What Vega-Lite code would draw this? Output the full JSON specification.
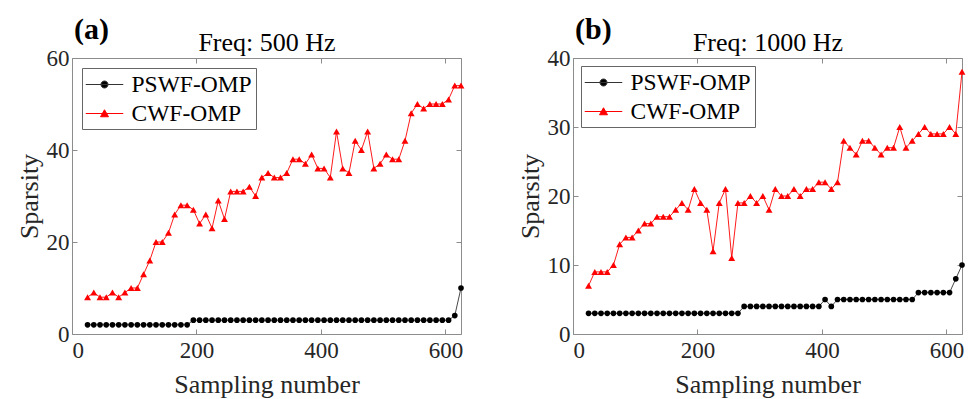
{
  "$schema": "https://vega.github.io/schema/vega-lite/v6.json",
  "padding": {"left": 15, "top": 14, "right": 4, "bottom": 2},
  "config": {
    "view": {"stroke": "#8c8c8c", "strokeWidth": 1},
    "font": "Liberation Serif",
    "axis": {"labelFont": "Liberation Serif", "labelFontSize": 23, "labelColor": "#262626", "titleFont": "Liberation Serif", "titleFontSize": 26, "titleFontWeight": "normal", "titleColor": "#262626", "grid": false, "domain": false, "tickColor": "#8c8c8c", "tickSize": -5, "labelPadding": 10},
    "title": {"font": "Liberation Serif", "color": "#000000"},
    "legend": {"orient": "top-left", "offset": 10, "fillColor": "white", "strokeColor": "#666666", "padding": 3.5, "labelFont": "Liberation Serif", "labelFontSize": 23.5, "labelColor": "#000000", "labelOffset": 14, "symbolOffset": 6, "rowPadding": 4, "symbolSize": 625, "symbolStrokeWidth": 1}
  },
  "datasets": {
    "a": [
      {"n":25,"s":"PSWF-OMP","v":2},{"n":35,"s":"PSWF-OMP","v":2},{"n":45,"s":"PSWF-OMP","v":2},{"n":55,"s":"PSWF-OMP","v":2},{"n":65,"s":"PSWF-OMP","v":2},{"n":75,"s":"PSWF-OMP","v":2},{"n":85,"s":"PSWF-OMP","v":2},{"n":95,"s":"PSWF-OMP","v":2},{"n":105,"s":"PSWF-OMP","v":2},{"n":115,"s":"PSWF-OMP","v":2},{"n":125,"s":"PSWF-OMP","v":2},{"n":135,"s":"PSWF-OMP","v":2},{"n":145,"s":"PSWF-OMP","v":2},{"n":155,"s":"PSWF-OMP","v":2},{"n":165,"s":"PSWF-OMP","v":2},{"n":175,"s":"PSWF-OMP","v":2},{"n":185,"s":"PSWF-OMP","v":2},
      {"n":195,"s":"PSWF-OMP","v":3},{"n":205,"s":"PSWF-OMP","v":3},{"n":215,"s":"PSWF-OMP","v":3},{"n":225,"s":"PSWF-OMP","v":3},{"n":235,"s":"PSWF-OMP","v":3},{"n":245,"s":"PSWF-OMP","v":3},{"n":255,"s":"PSWF-OMP","v":3},{"n":265,"s":"PSWF-OMP","v":3},{"n":275,"s":"PSWF-OMP","v":3},{"n":285,"s":"PSWF-OMP","v":3},{"n":295,"s":"PSWF-OMP","v":3},{"n":305,"s":"PSWF-OMP","v":3},{"n":315,"s":"PSWF-OMP","v":3},{"n":325,"s":"PSWF-OMP","v":3},{"n":335,"s":"PSWF-OMP","v":3},{"n":345,"s":"PSWF-OMP","v":3},{"n":355,"s":"PSWF-OMP","v":3},{"n":365,"s":"PSWF-OMP","v":3},{"n":375,"s":"PSWF-OMP","v":3},{"n":385,"s":"PSWF-OMP","v":3},{"n":395,"s":"PSWF-OMP","v":3},{"n":405,"s":"PSWF-OMP","v":3},{"n":415,"s":"PSWF-OMP","v":3},{"n":425,"s":"PSWF-OMP","v":3},{"n":435,"s":"PSWF-OMP","v":3},{"n":445,"s":"PSWF-OMP","v":3},{"n":455,"s":"PSWF-OMP","v":3},{"n":465,"s":"PSWF-OMP","v":3},{"n":475,"s":"PSWF-OMP","v":3},{"n":485,"s":"PSWF-OMP","v":3},{"n":495,"s":"PSWF-OMP","v":3},{"n":505,"s":"PSWF-OMP","v":3},{"n":515,"s":"PSWF-OMP","v":3},{"n":525,"s":"PSWF-OMP","v":3},{"n":535,"s":"PSWF-OMP","v":3},{"n":545,"s":"PSWF-OMP","v":3},{"n":555,"s":"PSWF-OMP","v":3},{"n":565,"s":"PSWF-OMP","v":3},{"n":575,"s":"PSWF-OMP","v":3},{"n":585,"s":"PSWF-OMP","v":3},{"n":595,"s":"PSWF-OMP","v":3},{"n":605,"s":"PSWF-OMP","v":3},{"n":615,"s":"PSWF-OMP","v":4},{"n":625,"s":"PSWF-OMP","v":10},
      {"n":25,"s":"CWF-OMP","v":8},{"n":35,"s":"CWF-OMP","v":9},{"n":45,"s":"CWF-OMP","v":8},{"n":55,"s":"CWF-OMP","v":8},{"n":65,"s":"CWF-OMP","v":9},{"n":75,"s":"CWF-OMP","v":8},{"n":85,"s":"CWF-OMP","v":9},{"n":95,"s":"CWF-OMP","v":10},{"n":105,"s":"CWF-OMP","v":10},{"n":115,"s":"CWF-OMP","v":13},
      {"n":125,"s":"CWF-OMP","v":16},{"n":135,"s":"CWF-OMP","v":20},{"n":145,"s":"CWF-OMP","v":20},{"n":155,"s":"CWF-OMP","v":22},{"n":165,"s":"CWF-OMP","v":26},{"n":175,"s":"CWF-OMP","v":28},{"n":185,"s":"CWF-OMP","v":28},{"n":195,"s":"CWF-OMP","v":27},{"n":205,"s":"CWF-OMP","v":24},{"n":215,"s":"CWF-OMP","v":26},
      {"n":225,"s":"CWF-OMP","v":23},{"n":235,"s":"CWF-OMP","v":29},{"n":245,"s":"CWF-OMP","v":25},{"n":255,"s":"CWF-OMP","v":31},{"n":265,"s":"CWF-OMP","v":31},{"n":275,"s":"CWF-OMP","v":31},{"n":285,"s":"CWF-OMP","v":32},{"n":295,"s":"CWF-OMP","v":30},{"n":305,"s":"CWF-OMP","v":34},{"n":315,"s":"CWF-OMP","v":35},
      {"n":325,"s":"CWF-OMP","v":34},{"n":335,"s":"CWF-OMP","v":34},{"n":345,"s":"CWF-OMP","v":35},{"n":355,"s":"CWF-OMP","v":38},{"n":365,"s":"CWF-OMP","v":38},{"n":375,"s":"CWF-OMP","v":37},{"n":385,"s":"CWF-OMP","v":39},{"n":395,"s":"CWF-OMP","v":36},{"n":405,"s":"CWF-OMP","v":36},{"n":415,"s":"CWF-OMP","v":34},
      {"n":425,"s":"CWF-OMP","v":44},{"n":435,"s":"CWF-OMP","v":36},{"n":445,"s":"CWF-OMP","v":35},{"n":455,"s":"CWF-OMP","v":42},{"n":465,"s":"CWF-OMP","v":40},{"n":475,"s":"CWF-OMP","v":44},{"n":485,"s":"CWF-OMP","v":36},{"n":495,"s":"CWF-OMP","v":37},{"n":505,"s":"CWF-OMP","v":39},{"n":515,"s":"CWF-OMP","v":38},
      {"n":525,"s":"CWF-OMP","v":38},{"n":535,"s":"CWF-OMP","v":42},{"n":545,"s":"CWF-OMP","v":48},{"n":555,"s":"CWF-OMP","v":50},{"n":565,"s":"CWF-OMP","v":49},{"n":575,"s":"CWF-OMP","v":50},{"n":585,"s":"CWF-OMP","v":50},{"n":595,"s":"CWF-OMP","v":50},{"n":605,"s":"CWF-OMP","v":51},{"n":615,"s":"CWF-OMP","v":54},{"n":625,"s":"CWF-OMP","v":54}
    ],
    "b": [
      {"n":25,"s":"PSWF-OMP","v":3},{"n":35,"s":"PSWF-OMP","v":3},{"n":45,"s":"PSWF-OMP","v":3},{"n":55,"s":"PSWF-OMP","v":3},{"n":65,"s":"PSWF-OMP","v":3},{"n":75,"s":"PSWF-OMP","v":3},{"n":85,"s":"PSWF-OMP","v":3},{"n":95,"s":"PSWF-OMP","v":3},{"n":105,"s":"PSWF-OMP","v":3},{"n":115,"s":"PSWF-OMP","v":3},{"n":125,"s":"PSWF-OMP","v":3},{"n":135,"s":"PSWF-OMP","v":3},{"n":145,"s":"PSWF-OMP","v":3},{"n":155,"s":"PSWF-OMP","v":3},{"n":165,"s":"PSWF-OMP","v":3},{"n":175,"s":"PSWF-OMP","v":3},{"n":185,"s":"PSWF-OMP","v":3},{"n":195,"s":"PSWF-OMP","v":3},{"n":205,"s":"PSWF-OMP","v":3},{"n":215,"s":"PSWF-OMP","v":3},{"n":225,"s":"PSWF-OMP","v":3},{"n":235,"s":"PSWF-OMP","v":3},{"n":245,"s":"PSWF-OMP","v":3},{"n":255,"s":"PSWF-OMP","v":3},{"n":265,"s":"PSWF-OMP","v":3},
      {"n":275,"s":"PSWF-OMP","v":4},{"n":285,"s":"PSWF-OMP","v":4},{"n":295,"s":"PSWF-OMP","v":4},{"n":305,"s":"PSWF-OMP","v":4},{"n":315,"s":"PSWF-OMP","v":4},{"n":325,"s":"PSWF-OMP","v":4},{"n":335,"s":"PSWF-OMP","v":4},{"n":345,"s":"PSWF-OMP","v":4},{"n":355,"s":"PSWF-OMP","v":4},{"n":365,"s":"PSWF-OMP","v":4},{"n":375,"s":"PSWF-OMP","v":4},{"n":385,"s":"PSWF-OMP","v":4},{"n":395,"s":"PSWF-OMP","v":4},{"n":405,"s":"PSWF-OMP","v":5},{"n":415,"s":"PSWF-OMP","v":4},
      {"n":425,"s":"PSWF-OMP","v":5},{"n":435,"s":"PSWF-OMP","v":5},{"n":445,"s":"PSWF-OMP","v":5},{"n":455,"s":"PSWF-OMP","v":5},{"n":465,"s":"PSWF-OMP","v":5},{"n":475,"s":"PSWF-OMP","v":5},{"n":485,"s":"PSWF-OMP","v":5},{"n":495,"s":"PSWF-OMP","v":5},{"n":505,"s":"PSWF-OMP","v":5},{"n":515,"s":"PSWF-OMP","v":5},{"n":525,"s":"PSWF-OMP","v":5},{"n":535,"s":"PSWF-OMP","v":5},{"n":545,"s":"PSWF-OMP","v":5},
      {"n":555,"s":"PSWF-OMP","v":6},{"n":565,"s":"PSWF-OMP","v":6},{"n":575,"s":"PSWF-OMP","v":6},{"n":585,"s":"PSWF-OMP","v":6},{"n":595,"s":"PSWF-OMP","v":6},{"n":605,"s":"PSWF-OMP","v":6},{"n":615,"s":"PSWF-OMP","v":8},{"n":625,"s":"PSWF-OMP","v":10},
      {"n":25,"s":"CWF-OMP","v":7},{"n":35,"s":"CWF-OMP","v":9},{"n":45,"s":"CWF-OMP","v":9},{"n":55,"s":"CWF-OMP","v":9},{"n":65,"s":"CWF-OMP","v":10},{"n":75,"s":"CWF-OMP","v":13},{"n":85,"s":"CWF-OMP","v":14},{"n":95,"s":"CWF-OMP","v":14},{"n":105,"s":"CWF-OMP","v":15},{"n":115,"s":"CWF-OMP","v":16},
      {"n":125,"s":"CWF-OMP","v":16},{"n":135,"s":"CWF-OMP","v":17},{"n":145,"s":"CWF-OMP","v":17},{"n":155,"s":"CWF-OMP","v":17},{"n":165,"s":"CWF-OMP","v":18},{"n":175,"s":"CWF-OMP","v":19},{"n":185,"s":"CWF-OMP","v":18},{"n":195,"s":"CWF-OMP","v":21},{"n":205,"s":"CWF-OMP","v":19},{"n":215,"s":"CWF-OMP","v":18},
      {"n":225,"s":"CWF-OMP","v":12},{"n":235,"s":"CWF-OMP","v":19},{"n":245,"s":"CWF-OMP","v":21},{"n":255,"s":"CWF-OMP","v":11},{"n":265,"s":"CWF-OMP","v":19},{"n":275,"s":"CWF-OMP","v":19},{"n":285,"s":"CWF-OMP","v":20},{"n":295,"s":"CWF-OMP","v":19},{"n":305,"s":"CWF-OMP","v":20},{"n":315,"s":"CWF-OMP","v":18},
      {"n":325,"s":"CWF-OMP","v":21},{"n":335,"s":"CWF-OMP","v":20},{"n":345,"s":"CWF-OMP","v":20},{"n":355,"s":"CWF-OMP","v":21},{"n":365,"s":"CWF-OMP","v":20},{"n":375,"s":"CWF-OMP","v":21},{"n":385,"s":"CWF-OMP","v":21},{"n":395,"s":"CWF-OMP","v":22},{"n":405,"s":"CWF-OMP","v":22},{"n":415,"s":"CWF-OMP","v":21},
      {"n":425,"s":"CWF-OMP","v":22},{"n":435,"s":"CWF-OMP","v":28},{"n":445,"s":"CWF-OMP","v":27},{"n":455,"s":"CWF-OMP","v":26},{"n":465,"s":"CWF-OMP","v":28},{"n":475,"s":"CWF-OMP","v":28},{"n":485,"s":"CWF-OMP","v":27},{"n":495,"s":"CWF-OMP","v":26},{"n":505,"s":"CWF-OMP","v":27},{"n":515,"s":"CWF-OMP","v":27},
      {"n":525,"s":"CWF-OMP","v":30},{"n":535,"s":"CWF-OMP","v":27},{"n":545,"s":"CWF-OMP","v":28},{"n":555,"s":"CWF-OMP","v":29},{"n":565,"s":"CWF-OMP","v":30},{"n":575,"s":"CWF-OMP","v":29},{"n":585,"s":"CWF-OMP","v":29},{"n":595,"s":"CWF-OMP","v":29},{"n":605,"s":"CWF-OMP","v":30},{"n":615,"s":"CWF-OMP","v":29},{"n":625,"s":"CWF-OMP","v":38}
    ]
  },
  "spacing": 51,
  "resolve": {
    "scale": {"x": "independent", "y": "independent", "stroke": "independent"}
  },
  "hconcat": [
    {
      "width": 389, "height": 276,
      "data": {"name": "a"},
      "title": {"text": "(a)", "anchor": "start", "frame": "group", "fontSize": 30, "fontWeight": "bold", "offset": -15, "dx": 2},
      "layer": [
        {
          "mark": {"type": "line", "strokeWidth": 0.9},
          "encoding": {
            "x": {"field": "n", "type": "quantitative", "scale": {"domain": [0, 625], "nice": false, "zero": false}, "axis": {"values": [0, 200, 400, 600], "title": "Sampling number", "titlePadding": 9}},
            "y": {"field": "v", "type": "quantitative", "scale": {"domain": [0, 60], "nice": false}, "axis": {"values": [0, 20, 40, 60], "title": "Sparsity", "labelPadding": 8}},
            "stroke": {"field": "s", "type": "nominal", "scale": {"domain": ["PSWF-OMP", "CWF-OMP"], "range": ["#333333", "#ff0000"]},
              "legend": {"title": null, "offset": 10, "encode": {"symbols": {"update": {
                "shape": {"signal": "datum.value === 'PSWF-OMP' ? 'M-1.5,0H1.5M0.28,0A0.28,0.28,0,1,1,-0.28,0A0.28,0.28,0,1,1,0.28,0Z' : 'M-1.5,0H1.5M0,-0.3L0.32,0.26L-0.32,0.26Z'"},
                "stroke": {"signal": "datum.value === 'PSWF-OMP' ? '#333333' : '#ff0000'"},
                "fill": {"signal": "datum.value === 'PSWF-OMP' ? '#000000' : '#ff0000'"},
                "strokeWidth": {"value": 1}, "size": {"value": 625}, "opacity": {"value": 1}}}}}}
          }
        },
        {
          "mark": {"type": "point", "filled": true, "opacity": 1},
          "encoding": {
            "x": {"field": "n", "type": "quantitative", "axis": {"orient": "top", "values": [0, 200, 400, 600], "labels": false, "title": "Freq: 500 Hz", "titlePadding": 2, "titleColor": "#000000"}},
            "y": {"field": "v", "type": "quantitative", "axis": {"orient": "right", "values": [0, 20, 40, 60], "labels": false, "title": null}},
            "color": {"condition": {"test": "datum.s === 'CWF-OMP'", "value": "#ff0000"}, "value": "#000000"},
            "shape": {"condition": {"test": "datum.s === 'CWF-OMP'", "value": "triangle-up"}, "value": "circle"},
            "size": {"condition": {"test": "datum.s === 'CWF-OMP'", "value": 48}, "value": 32}
          }
        }
      ],
      "resolve": {"axis": {"x": "independent", "y": "independent"}}
    },
    {
      "width": 389, "height": 276,
      "data": {"name": "b"},
      "title": {"text": "(b)", "anchor": "start", "frame": "group", "fontSize": 30, "fontWeight": "bold", "offset": -15, "dx": 2},
      "layer": [
        {
          "mark": {"type": "line", "strokeWidth": 0.9},
          "encoding": {
            "x": {"field": "n", "type": "quantitative", "scale": {"domain": [0, 625], "nice": false, "zero": false}, "axis": {"values": [0, 200, 400, 600], "title": "Sampling number", "titlePadding": 9}},
            "y": {"field": "v", "type": "quantitative", "scale": {"domain": [0, 40], "nice": false}, "axis": {"values": [0, 10, 20, 30, 40], "title": "Sparsity", "labelPadding": 8}},
            "stroke": {"field": "s", "type": "nominal", "scale": {"domain": ["PSWF-OMP", "CWF-OMP"], "range": ["#333333", "#ff0000"]},
              "legend": {"title": null, "offset": 8, "encode": {"symbols": {"update": {
                "shape": {"signal": "datum.value === 'PSWF-OMP' ? 'M-1.5,0H1.5M0.28,0A0.28,0.28,0,1,1,-0.28,0A0.28,0.28,0,1,1,0.28,0Z' : 'M-1.5,0H1.5M0,-0.3L0.32,0.26L-0.32,0.26Z'"},
                "stroke": {"signal": "datum.value === 'PSWF-OMP' ? '#333333' : '#ff0000'"},
                "fill": {"signal": "datum.value === 'PSWF-OMP' ? '#000000' : '#ff0000'"},
                "strokeWidth": {"value": 1}, "size": {"value": 625}, "opacity": {"value": 1}}}}}}
          }
        },
        {
          "mark": {"type": "point", "filled": true, "opacity": 1},
          "encoding": {
            "x": {"field": "n", "type": "quantitative", "axis": {"orient": "top", "values": [0, 200, 400, 600], "labels": false, "title": "Freq: 1000 Hz", "titlePadding": 2, "titleColor": "#000000"}},
            "y": {"field": "v", "type": "quantitative", "axis": {"orient": "right", "values": [0, 10, 20, 30, 40], "labels": false, "title": null}},
            "color": {"condition": {"test": "datum.s === 'CWF-OMP'", "value": "#ff0000"}, "value": "#000000"},
            "shape": {"condition": {"test": "datum.s === 'CWF-OMP'", "value": "triangle-up"}, "value": "circle"},
            "size": {"condition": {"test": "datum.s === 'CWF-OMP'", "value": 48}, "value": 32}
          }
        }
      ],
      "resolve": {"axis": {"x": "independent", "y": "independent"}}
    }
  ]
}
